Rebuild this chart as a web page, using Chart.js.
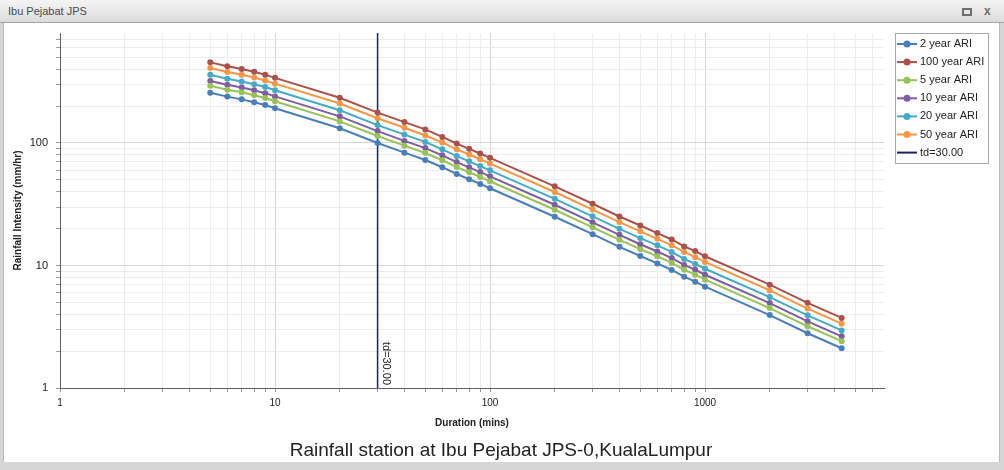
<!DOCTYPE html>
<html>
<head>
<meta charset="utf-8">
<title>Ibu Pejabat JPS</title>
<script src="https://cdn.jsdelivr.net/npm/chart.js@4.4.0/dist/chart.umd.min.js"></script>
<style>
  body { margin: 0; width: 1004px; height: 470px; overflow: hidden; position: relative;
         background: #d6d6d6; font-family: 'Liberation Sans', Arial, sans-serif; }
  #bar { position: absolute; left: 0; top: 0; width: 1004px; height: 22px;
         background: linear-gradient(#f4f4f4, #dcdcdc); border-bottom: 1px solid #a4a4a4; }
  #bar .t { position: absolute; left: 8px; top: 5px; font-size: 11px; color: #4a4a4a; }
  #bar .max { position: absolute; left: 962px; top: 8px; width: 6px; height: 4px; border: 2px solid #6e6e6e; }
  #bar .close { position: absolute; left: 984px; top: 4px; font-size: 12px; font-weight: bold; color: #6e6e6e; }
  #frame { position: absolute; left: 3px; top: 23px; width: 995px; height: 439px; background: #fff;
           border-left: 1px solid #b8b8b8; border-right: 1px solid #b8b8b8; }
  #wrap { position: absolute; left: 4px; top: 23px; width: 994px; height: 439px; }
</style>
</head>
<body>
<div id="bar"><span class="t">Ibu Pejabat JPS</span><span class="max"></span><span class="close">x</span></div>
<div id="frame"></div>
<div id="wrap"><canvas id="idfChart"></canvas></div>
<script>
// durations (mins)
const durations = [5, 6, 7, 8, 9, 10, 20, 30, 40, 50, 60, 70, 80, 90, 100,
                   200, 300, 400, 500, 600, 700, 800, 900, 1000, 2000, 3000, 4320];

// rainfall intensity (mm/hr)
const ari2   = [257, 239, 227, 215, 204, 192, 132, 100, 83.4, 72.6, 63.4, 55.8, 50.6, 46.3, 42.7,
                25.0, 18.0, 14.2, 11.95, 10.4, 9.19, 8.1, 7.38, 6.72, 3.94, 2.80, 2.11];
const ari100 = [455, 423, 402, 381, 361, 340, 234, 177, 148, 129, 112, 98.8, 89.6, 82.0, 75.6,
                44.3, 31.9, 25.1, 21.2, 18.4, 16.3, 14.3, 13.1, 11.9, 6.97, 4.96, 3.73];
const ari5   = [293, 272, 259, 245, 233, 219, 150, 114, 95.1, 82.8, 72.3, 63.6, 57.7, 52.8, 48.7,
                28.5, 20.5, 16.2, 13.6, 11.9, 10.5, 9.23, 8.41, 7.66, 4.49, 3.19, 2.41];
const ari10  = [321, 299, 284, 269, 255, 240, 165, 125, 104, 90.8, 79.3, 69.8, 63.3, 57.9, 53.4,
                31.3, 22.5, 17.8, 14.9, 13.0, 11.5, 10.1, 9.23, 8.40, 4.93, 3.50, 2.64];
const ari20  = [360, 335, 318, 301, 286, 269, 185, 140, 117, 102, 88.8, 78.1, 70.8, 64.8, 59.8,
                35.0, 25.2, 19.9, 16.7, 14.6, 12.9, 11.3, 10.3, 9.41, 5.52, 3.92, 2.95];
const ari50  = [409, 380, 361, 342, 324, 305, 210, 159, 133, 115, 101, 88.7, 80.5, 73.6, 67.9,
                39.8, 28.6, 22.6, 19.0, 16.5, 14.6, 12.9, 11.7, 10.7, 6.26, 4.45, 3.35];

const seriesLabels = ['2 year ARI', '100 year ARI', '5 year ARI', '10 year ARI', '20 year ARI', '50 year ARI'];
const seriesValues = [ari2, ari100, ari5, ari10, ari20, ari50];
const seriesColors = ['#4a7ebb', '#a9524d', '#98c15a', '#7d5fa0', '#46aac5', '#f79646'];

const tdValue = 30;
const xRange = [1, 6800];
const yRange = [1, 790];
const xTickLabels = [1, 10, 100, 1000];
const yTickLabels = [1, 10, 100];

const font = "'Liberation Sans', Arial, sans-serif";

function gridValues(min, max) {
  const vals = [];
  for (let e = 0; Math.pow(10, e) <= max; e++) {
    for (let m = 1; m <= 9; m++) {
      const v = m * Math.pow(10, e);
      if (v >= min && v <= max) vals.push(v);
    }
  }
  return vals;
}
const isDecade = v => Math.abs(Math.log10(v) - Math.round(Math.log10(v))) < 1e-9;

const datasets = seriesLabels.map((label, i) => ({
  label,
  data: durations.map((d, j) => ({ x: d, y: seriesValues[i][j] })),
  borderColor: seriesColors[i],
  backgroundColor: seriesColors[i],
  pointBackgroundColor: seriesColors[i],
  pointBorderColor: seriesColors[i],
  borderWidth: 2,
  pointRadius: 3,
  pointBorderWidth: 0,
  tension: 0
}));
datasets.push({
  label: 'td=' + tdValue.toFixed(2),
  data: [{ x: tdValue, y: yRange[0] }, { x: tdValue, y: yRange[1] }],
  borderColor: '#1c2260',
  backgroundColor: '#1c2260',
  borderWidth: 1.5,
  pointRadius: 0
});

const boxLegend = {
  id: 'boxLegend',
  afterDraw(chart) {
    const { ctx, chartArea } = chart;
    const left = chartArea.right + 11, top = chartArea.top;
    ctx.save();
    ctx.strokeStyle = '#a8a8a8';
    ctx.lineWidth = 1;
    ctx.strokeRect(left + 0.5, top + 0.5, 93, 130);
    ctx.font = '11px ' + font;
    ctx.textBaseline = 'middle';
    ctx.textAlign = 'left';
    chart.data.datasets.forEach((ds, i) => {
      const y = top + 11 + i * 18.1;
      ctx.strokeStyle = ds.borderColor;
      ctx.lineWidth = 2;
      ctx.beginPath();
      ctx.moveTo(left + 2, y);
      ctx.lineTo(left + 22, y);
      ctx.stroke();
      if (ds.pointRadius > 0) {
        ctx.fillStyle = ds.borderColor;
        ctx.beginPath();
        ctx.arc(left + 12, y, 3.5, 0, Math.PI * 2);
        ctx.fill();
      }
      ctx.fillStyle = '#222';
      ctx.fillText(ds.label, left + 25, y);
    });
    ctx.restore();
  }
};

const tdLabel = {
  id: 'tdLabel',
  afterDatasetsDraw(chart) {
    const { ctx, chartArea } = chart;
    const x = chart.scales.x.getPixelForValue(tdValue);
    ctx.save();
    ctx.translate(x + 8, chartArea.bottom - 3);
    ctx.rotate(Math.PI / 2);
    ctx.font = '11px ' + font;
    ctx.fillStyle = '#222';
    ctx.textAlign = 'right';
    ctx.textBaseline = 'middle';
    ctx.fillText('td=' + tdValue.toFixed(2), 0, 0);
    ctx.restore();
  }
};

window.addEventListener('load', () => {
  new Chart(document.getElementById('idfChart'), {
    type: 'line',
    data: { datasets },
    plugins: [boxLegend, tdLabel],
    options: {
      responsive: true,
      maintainAspectRatio: false,
      animation: false,
      layout: { padding: { left: 0, top: 10, right: 0, bottom: 0 } },
      plugins: {
        legend: { display: false },
        tooltip: { enabled: false },
        title: {
          display: true,
          position: 'bottom',
          text: 'Rainfall station at Ibu Pejabat JPS-0,KualaLumpur',
          color: '#222',
          font: { family: font, size: 19, weight: 'normal' },
          padding: { top: 0, bottom: 0.2 }
        }
      },
      scales: {
        x: {
          type: 'logarithmic',
          min: xRange[0],
          max: xRange[1],
          afterBuildTicks: s => { s.ticks = gridValues(xRange[0], xRange[1]).map(v => ({ value: v })); },
          afterFit: s => { s.height = 51; s.paddingLeft = 0; s.paddingRight = 0; },
          ticks: {
            autoSkip: false, maxRotation: 0, padding: 5, color: '#222',
            font: { family: font, size: 10 },
            callback: v => xTickLabels.includes(v) ? String(v) : ''
          },
          grid: {
            color: c => isDecade(c.tick.value) ? '#d6d6d6' : '#ececec',
            tickColor: '#9a9a9a', tickLength: 4
          },
          border: { color: '#606060' },
          title: {
            display: true, text: 'Duration (mins)', color: '#222',
            font: { family: font, size: 10, weight: 'bold' },
            padding: { top: 0, bottom: 10 }
          }
        },
        y: {
          type: 'logarithmic',
          min: yRange[0],
          max: yRange[1],
          afterBuildTicks: s => { s.ticks = gridValues(yRange[0], yRange[1]).map(v => ({ value: v })); },
          afterFit: s => { s.width = 56; s.paddingTop = 0; s.paddingBottom = 0; },
          ticks: {
            autoSkip: false, padding: 8, color: '#222',
            font: { family: font, size: 11 },
            callback: v => yTickLabels.includes(v) ? String(v) : ''
          },
          grid: {
            color: c => isDecade(c.tick.value) ? '#d6d6d6' : '#ececec',
            tickColor: '#9a9a9a', tickLength: 4
          },
          border: { color: '#606060' },
          title: {
            display: true, text: 'Rainfall Intensity (mm/hr)', color: '#222',
            font: { family: font, size: 10, weight: 'bold' },
            padding: { top: 8, bottom: 0 }
          }
        },
        // empty right-hand axis that only reserves room for the legend box
        legendSpace: {
          type: 'linear',
          position: 'right',
          afterFit: s => { s.width = 114; s.paddingTop = 0; s.paddingBottom = 0; },
          ticks: { display: false },
          grid: { display: false, drawTicks: false },
          border: { display: false }
        }
      }
    }
  });
});
</script>
</body>
</html>
